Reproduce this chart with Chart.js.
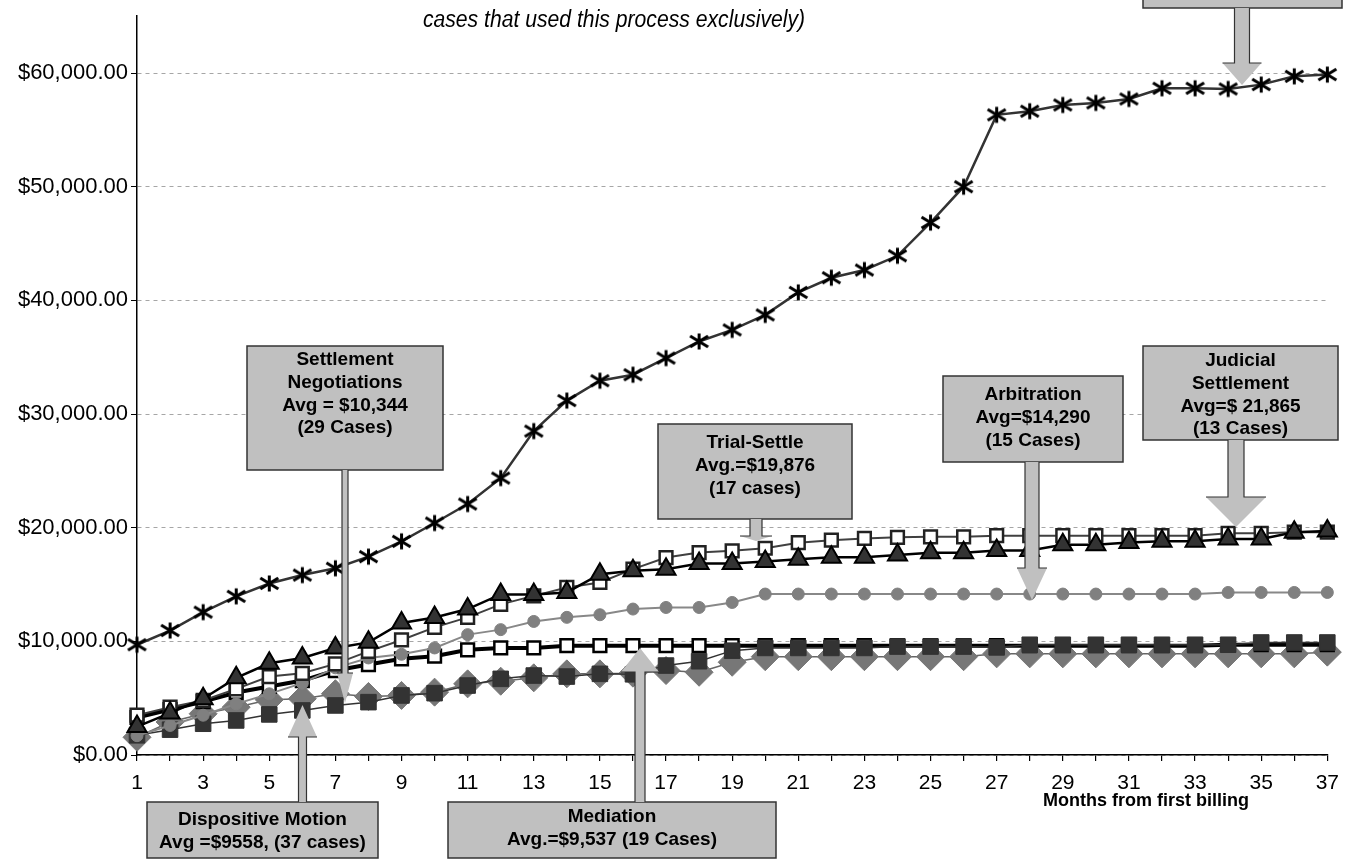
<!DOCTYPE html>
<html>
<head>
<meta charset="utf-8">
<script src="https://cdn.jsdelivr.net/npm/chart.js@4.4.0/dist/chart.umd.min.js"></script>
<style>
html, body { margin: 0; padding: 0; background: #fff; }
#wrap { width: 1349px; height: 865px; position: relative; }
</style>
</head>
<body>
<div id="wrap"><canvas id="chart"></canvas></div>
<script>
// months from first billing
const months = ['1','2','3','4','5','6','7','8','9','10','11','12','13','14','15','16','17','18','19',
  '20','21','22','23','24','25','26','27','28','29','30','31','32','33','34','35','36','37'];
const yTicks = [0, 10000, 20000, 30000, 40000, 50000, 60000];

// cumulative cost per process
const trialJudgment = [9700, 10950, 12570, 13960, 15090, 15830, 16430, 17450, 18800, 20410, 22080, 24360, 28500,
  31180, 32930, 33460, 34920, 36380, 37400, 38720, 40700, 41990, 42670, 43920, 46840, 50000, 56320, 56640,
  57190, 57370, 57720, 58660, 58660, 58600, 58980, 59710, 59860];
const judicialSettlement = [2500, 3690, 4950, 6790, 8070, 8540, 9420, 9910, 11620, 12100, 12840, 14130, 14130,
  14300, 15910, 16200, 16350, 16840, 16840, 17020, 17230, 17400, 17400, 17600, 17800, 17800, 18000, 18000,
  18500, 18500, 18700, 18800, 18800, 19000, 19000, 19600, 19700];
const trialSettle = [3500, 4210, 4800, 5820, 6900, 7190, 8020, 9120, 10120, 11230, 12110, 13250, 14000, 14740,
  15180, 16350, 17370, 17810, 17960, 18190, 18680, 18900, 19050, 19150, 19200, 19200, 19300, 19300, 19300,
  19300, 19300, 19300, 19300, 19500, 19500, 19600, 19600];
const arbitration = [1700, 2600, 3500, 4500, 5380, 6320, 7670, 8540, 8860, 9420, 10590, 11030, 11750, 12110,
  12340, 12840, 12980, 12980, 13420, 14160, 14160, 14160, 14160, 14160, 14160, 14160, 14160, 14160, 14160,
  14160, 14160, 14160, 14160, 14300, 14300, 14300, 14300];
const settlementNeg = [3300, 4000, 4700, 5500, 6030, 6550, 7430, 7960, 8460, 8690, 9250, 9420, 9420, 9620,
  9620, 9620, 9620, 9620, 9620, 9620, 9620, 9620, 9620, 9620, 9620, 9620, 9620, 9620, 9620, 9620, 9620,
  9620, 9620, 9700, 9700, 9700, 9700];
const mediation = [1730, 2230, 2750, 3040, 3570, 3920, 4360, 4650, 5240, 5440, 6110, 6700, 6990, 6900, 7140,
  7100, 7870, 8250, 9180, 9420, 9420, 9420, 9420, 9540, 9540, 9540, 9470, 9700, 9700, 9700, 9700, 9700,
  9700, 9700, 9900, 9900, 9900];
const dispositiveMotion = [1560, 2900, 3630, 4210, 4860, 4950, 5390, 5150, 5240, 5530, 6260, 6490, 6790, 7140,
  7140, 7200, 7430, 7280, 8160, 8650, 8650, 8650, 8650, 8650, 8650, 8650, 8900, 8900, 8900, 8900, 8900,
  8900, 8900, 8900, 8900, 8900, 9050];

// callout boxes: [left, top, right, bottom], arrow: [x, start, headBase, tip, stemW, headW]
const callouts = [
  { lines: ['Settlement', 'Negotiations', 'Avg = $10,344', '(29 Cases)'], box: [247, 346, 443, 470], first: 360, arrow: [345, 470, 673, 703, 6, 16] },
  { lines: ['Dispositive Motion', 'Avg =$9558, (37 cases)'], box: [147, 802, 378, 858], first: 820, arrow: [302.5, 802, 737, 705, 8, 29] },
  { lines: ['Mediation', 'Avg.=$9,537 (19 Cases)'], box: [448, 802, 776, 858], first: 817, arrow: [640, 802, 672, 648, 10, 38] },
  { lines: ['Trial-Settle', 'Avg.=$19,876', '(17 cases)'], box: [658, 424, 852, 519], first: 443, arrow: [756, 519, 536, 541, 12, 32] },
  { lines: ['Arbitration', 'Avg=$14,290', '(15 Cases)'], box: [943, 376, 1123, 462], first: 395, arrow: [1032, 462, 568, 600, 14, 30] },
  { lines: ['Judicial', 'Settlement', 'Avg=$ 21,865', '(13 Cases)'], box: [1143, 346, 1338, 440], first: 361, arrow: [1236, 440, 497, 527, 16, 60] },
  { lines: [], box: [1143, -10, 1342, 8], first: 0, arrow: [1242, 8, 63, 85, 15, 39] }
];

function makeAsterisk(size, lw) {
  const c = document.createElement('canvas');
  c.width = size; c.height = size;
  const g = c.getContext('2d');
  const m = size / 2, r = size / 2 - 1.5;
  g.strokeStyle = '#000';
  g.lineWidth = lw;
  g.beginPath();
  g.moveTo(m, m - r * 0.9); g.lineTo(m, m + r * 0.9);
  g.moveTo(m - r, m - r * 0.62); g.lineTo(m + r, m + r * 0.62);
  g.moveTo(m - r, m + r * 0.62); g.lineTo(m + r, m - r * 0.62);
  g.stroke();
  return c;
}
const asterisk = makeAsterisk(21, 3);

function drawArrow(ctx, a) {
  const [x, y0, hb, tip, sw, hw] = a;
  const s = sw / 2, h = hw / 2;
  ctx.save();
  ctx.fillStyle = '#c0c0c0';
  ctx.beginPath();
  ctx.moveTo(x - s, y0);
  ctx.lineTo(x + s, y0);
  ctx.lineTo(x + s, hb);
  ctx.lineTo(x + h, hb);
  ctx.lineTo(x, tip);
  ctx.lineTo(x - h, hb);
  ctx.lineTo(x - s, hb);
  ctx.closePath();
  ctx.fill();
  ctx.strokeStyle = '#333';
  ctx.lineWidth = 1.2;
  ctx.beginPath();
  ctx.moveTo(x - s, y0); ctx.lineTo(x - s, hb); ctx.lineTo(x - h, hb);
  ctx.moveTo(x + s, y0); ctx.lineTo(x + s, hb); ctx.lineTo(x + h, hb);
  ctx.stroke();
  ctx.restore();
}

const annotate = {
  id: 'annotate',
  afterDraw(chart) {
    const ctx = chart.ctx;
    ctx.save();
    // partial title (condensed italic)
    ctx.save();
    ctx.fillStyle = '#000';
    ctx.font = 'italic 23px "Liberation Sans", Arial, sans-serif';
    ctx.textAlign = 'center';
    ctx.textBaseline = 'alphabetic';
    ctx.translate(614, 27);
    ctx.scale(0.92, 1);
    ctx.fillText('cases that used this process exclusively)', 0, 0);
    ctx.restore();
    // x axis title
    ctx.fillStyle = '#000';
    ctx.font = 'bold 18px "Liberation Sans", Arial, sans-serif';
    ctx.textAlign = 'center';
    ctx.textBaseline = 'middle';
    ctx.fillText('Months from first billing', 1146, 801);

    callouts.forEach(c => {
      const [l, t, r, b] = c.box;
      ctx.fillStyle = '#c0c0c0';
      ctx.fillRect(l, t, r - l, b - t);
      ctx.strokeStyle = '#333';
      ctx.lineWidth = 1.5;
      ctx.strokeRect(l, t, r - l, b - t);
      drawArrow(ctx, c.arrow);
      ctx.fillStyle = '#000';
      ctx.font = 'bold 19px "Liberation Sans", Arial, sans-serif';
      ctx.textAlign = 'center';
      ctx.textBaseline = 'middle';
      c.lines.forEach((txt, i) => ctx.fillText(txt, (l + r) / 2, c.first + i * 22.7));
    });
    ctx.restore();
  }
};

Chart.defaults.font.family = '"Liberation Sans", Arial, sans-serif';
Chart.defaults.color = '#000';

new Chart(document.getElementById('chart'), {
  type: 'line',
  data: {
    labels: months,
    datasets: [
      { label: 'Trial', data: trialJudgment, borderColor: '#333', borderWidth: 2.5,
        pointStyle: asterisk, pointRadius: 10 },
      { label: 'Judicial Settlement', data: judicialSettlement, borderColor: '#000', borderWidth: 2.5,
        pointStyle: 'triangle', pointRadius: 11, pointBackgroundColor: '#333', pointBorderColor: '#000', pointBorderWidth: 2 },
      { label: 'Trial-Settle', data: trialSettle, borderColor: '#404040', borderWidth: 2,
        pointStyle: 'rect', pointRadius: 9, pointBackgroundColor: '#fff', pointBorderColor: '#222', pointBorderWidth: 2.5 },
      { label: 'Arbitration', data: arbitration, borderColor: '#888', borderWidth: 2,
        pointStyle: 'circle', pointRadius: 6, pointBackgroundColor: '#808080', pointBorderColor: '#808080', pointBorderWidth: 1 },
      { label: 'Mediation', data: mediation, borderColor: '#333', borderWidth: 1.5,
        pointStyle: 'rect', pointRadius: 11, pointBackgroundColor: '#333', pointBorderColor: '#333', pointBorderWidth: 1 },
      { label: 'Settlement Negotiations', data: settlementNeg, borderColor: '#000', borderWidth: 4,
        pointStyle: 'rect', pointRadius: 9, pointBackgroundColor: '#fff', pointBorderColor: '#000', pointBorderWidth: 2.5 },
      { label: 'Dispositive Motion', data: dispositiveMotion, borderColor: '#666', borderWidth: 1.5,
        pointStyle: 'rectRot', pointRadius: 14, pointBackgroundColor: '#777', pointBorderColor: '#777', pointBorderWidth: 1 }
    ]
  },
  options: {
    responsive: true,
    maintainAspectRatio: false,
    animation: false,
    layout: { padding: { top: 13, right: 21, left: 0, bottom: 0 } },
    elements: { line: { tension: 0, fill: false } },
    plugins: { legend: { display: false }, tooltip: { enabled: false } },
    scales: {
      x: {
        afterFit: s => { s.height = 110; },
        ticks: {
          autoSkip: false, maxRotation: 0, minRotation: 0, color: '#000', padding: 10,
          font: { size: 21 },
          callback: (v, i) => (i % 2 === 0 ? months[i] : '')
        },
        grid: { drawOnChartArea: false, tickColor: '#000', tickLength: 6, lineWidth: 1.2 },
        border: { color: '#000', width: 1.5 }
      },
      y: {
        min: 0,
        max: 65000,
        afterBuildTicks: s => { s.ticks = yTicks.map(v => ({ value: v })); },
        afterFit: s => { s.width = 137; },
        ticks: {
          color: '#000', padding: 3, font: { size: 22 },
          callback: v => '$' + v.toLocaleString('en-US', { minimumFractionDigits: 2, maximumFractionDigits: 2 })
        },
        grid: { color: '#a6a6a6', lineWidth: 1, tickColor: '#000', tickLength: 6 },
        border: { color: '#000', width: 1.5, dash: [4, 4] }
      }
    }
  },
  plugins: [annotate]
});
</script>
</body>
</html>
